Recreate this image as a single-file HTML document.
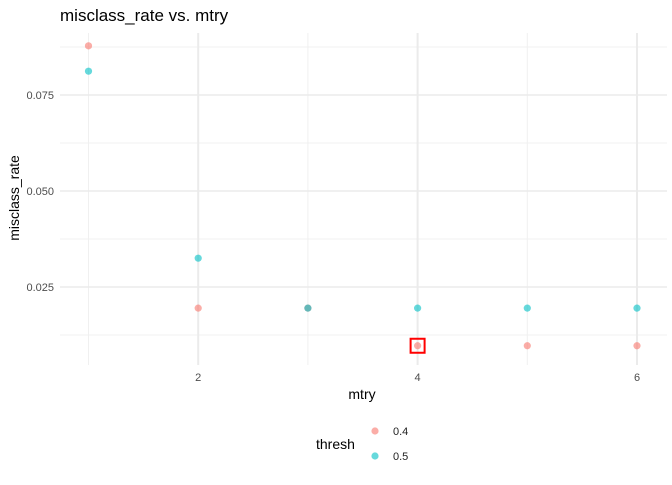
<!DOCTYPE html>
<html><head><meta charset="utf-8"><style>
body{margin:0;background:#fff;font-family:"Liberation Sans",sans-serif}
svg text{font-family:"Liberation Sans",sans-serif}
</style></head><body>
<svg id="chart" width="672" height="480">
<rect width="672" height="480" fill="#fff"/>
<text x="60" y="21" font-size="17" fill="#000">misclass_rate vs. mtry</text>
<g id="grid"></g>
<g id="points"></g>
<text x="362" y="399" font-size="14" text-anchor="middle">mtry</text>
<text transform="translate(19,198) rotate(-90)" font-size="14" text-anchor="middle">misclass_rate</text>
<g>
<text x="316" y="449" font-size="14">thresh</text>
<circle cx="375" cy="431" r="3.6" fill="#F8766D" fill-opacity="0.6"/>
<text x="393" y="435" font-size="11" fill="#222">0.4</text>
<circle cx="375" cy="456" r="3.6" fill="#00BFC4" fill-opacity="0.6"/>
<text x="393" y="460" font-size="11" fill="#222">0.5</text>
</g>
</svg>
<script>
const mtry = [1,2,3,4,5,6];
const rate04 = [0.0878,0.0195,0.0195,0.0097,0.0097,0.0097];
const rate05 = [0.0812,0.0325,0.0195,0.0195,0.0195,0.0195];
const xTicks = [2,4,6];
const yTicks = [0.025,0.050,0.075];
const yTickLabels = ["0.025","0.050","0.075"];
const best = {mtry:4, rate:0.0097};

const NS="http://www.w3.org/2000/svg";
const x = v => 88.5 + (v-1)*109.7;
const y = v => 287 - (v-0.025)*3840;
const grid=document.getElementById('grid'), pts=document.getElementById('points');
function mk(tag,attrs,parent){const e=document.createElementNS(NS,tag);for(const k in attrs)e.setAttribute(k,attrs[k]);parent.appendChild(e);return e;}
const pTop=33,pBot=365,pLeft=60,pRight=667;
[1,3,5].forEach(v=>{const l=mk('line',{x1:x(v),x2:x(v),y1:pTop,y2:pBot,stroke:'#f0f0f0','stroke-width':1},grid);

});
[0.0125,0.0375,0.0625,0.0875].forEach(v=>{const l=mk('line',{x1:pLeft,x2:pRight,y1:y(v),y2:y(v),stroke:'#f0f0f0','stroke-width':1},grid);

});
xTicks.forEach(v=>{const l=mk('line',{x1:x(v),x2:x(v),y1:pTop,y2:pBot,stroke:'#ebebeb','stroke-width':2},grid);


const t=mk('text',{x:x(v),y:381,'font-size':11,fill:'#4d4d4d','text-anchor':'middle'},grid);t.textContent=v;

});
yTicks.forEach((v,i)=>{const l=mk('line',{x1:pLeft,x2:pRight,y1:y(v),y2:y(v),stroke:'#ebebeb','stroke-width':1.5},grid);


const t=mk('text',{x:54,y:y(v)+4,'font-size':11,fill:'#4d4d4d','text-anchor':'end'},grid);t.textContent=yTickLabels[i];

});
mtry.forEach((m,i)=>{
const a=mk('circle',{cx:x(m),cy:y(rate04[i]),r:3.6,fill:'#F8766D','fill-opacity':0.6},pts);


const b=mk('circle',{cx:x(m),cy:y(rate05[i]),r:3.6,fill:'#00BFC4','fill-opacity':0.6},pts);

});
const r=mk('rect',{x:x(best.mtry)-7,y:y(best.rate)-7,width:14,height:14,fill:'none',stroke:'#ff0000','stroke-width':2},pts);


</script>
</body></html>
